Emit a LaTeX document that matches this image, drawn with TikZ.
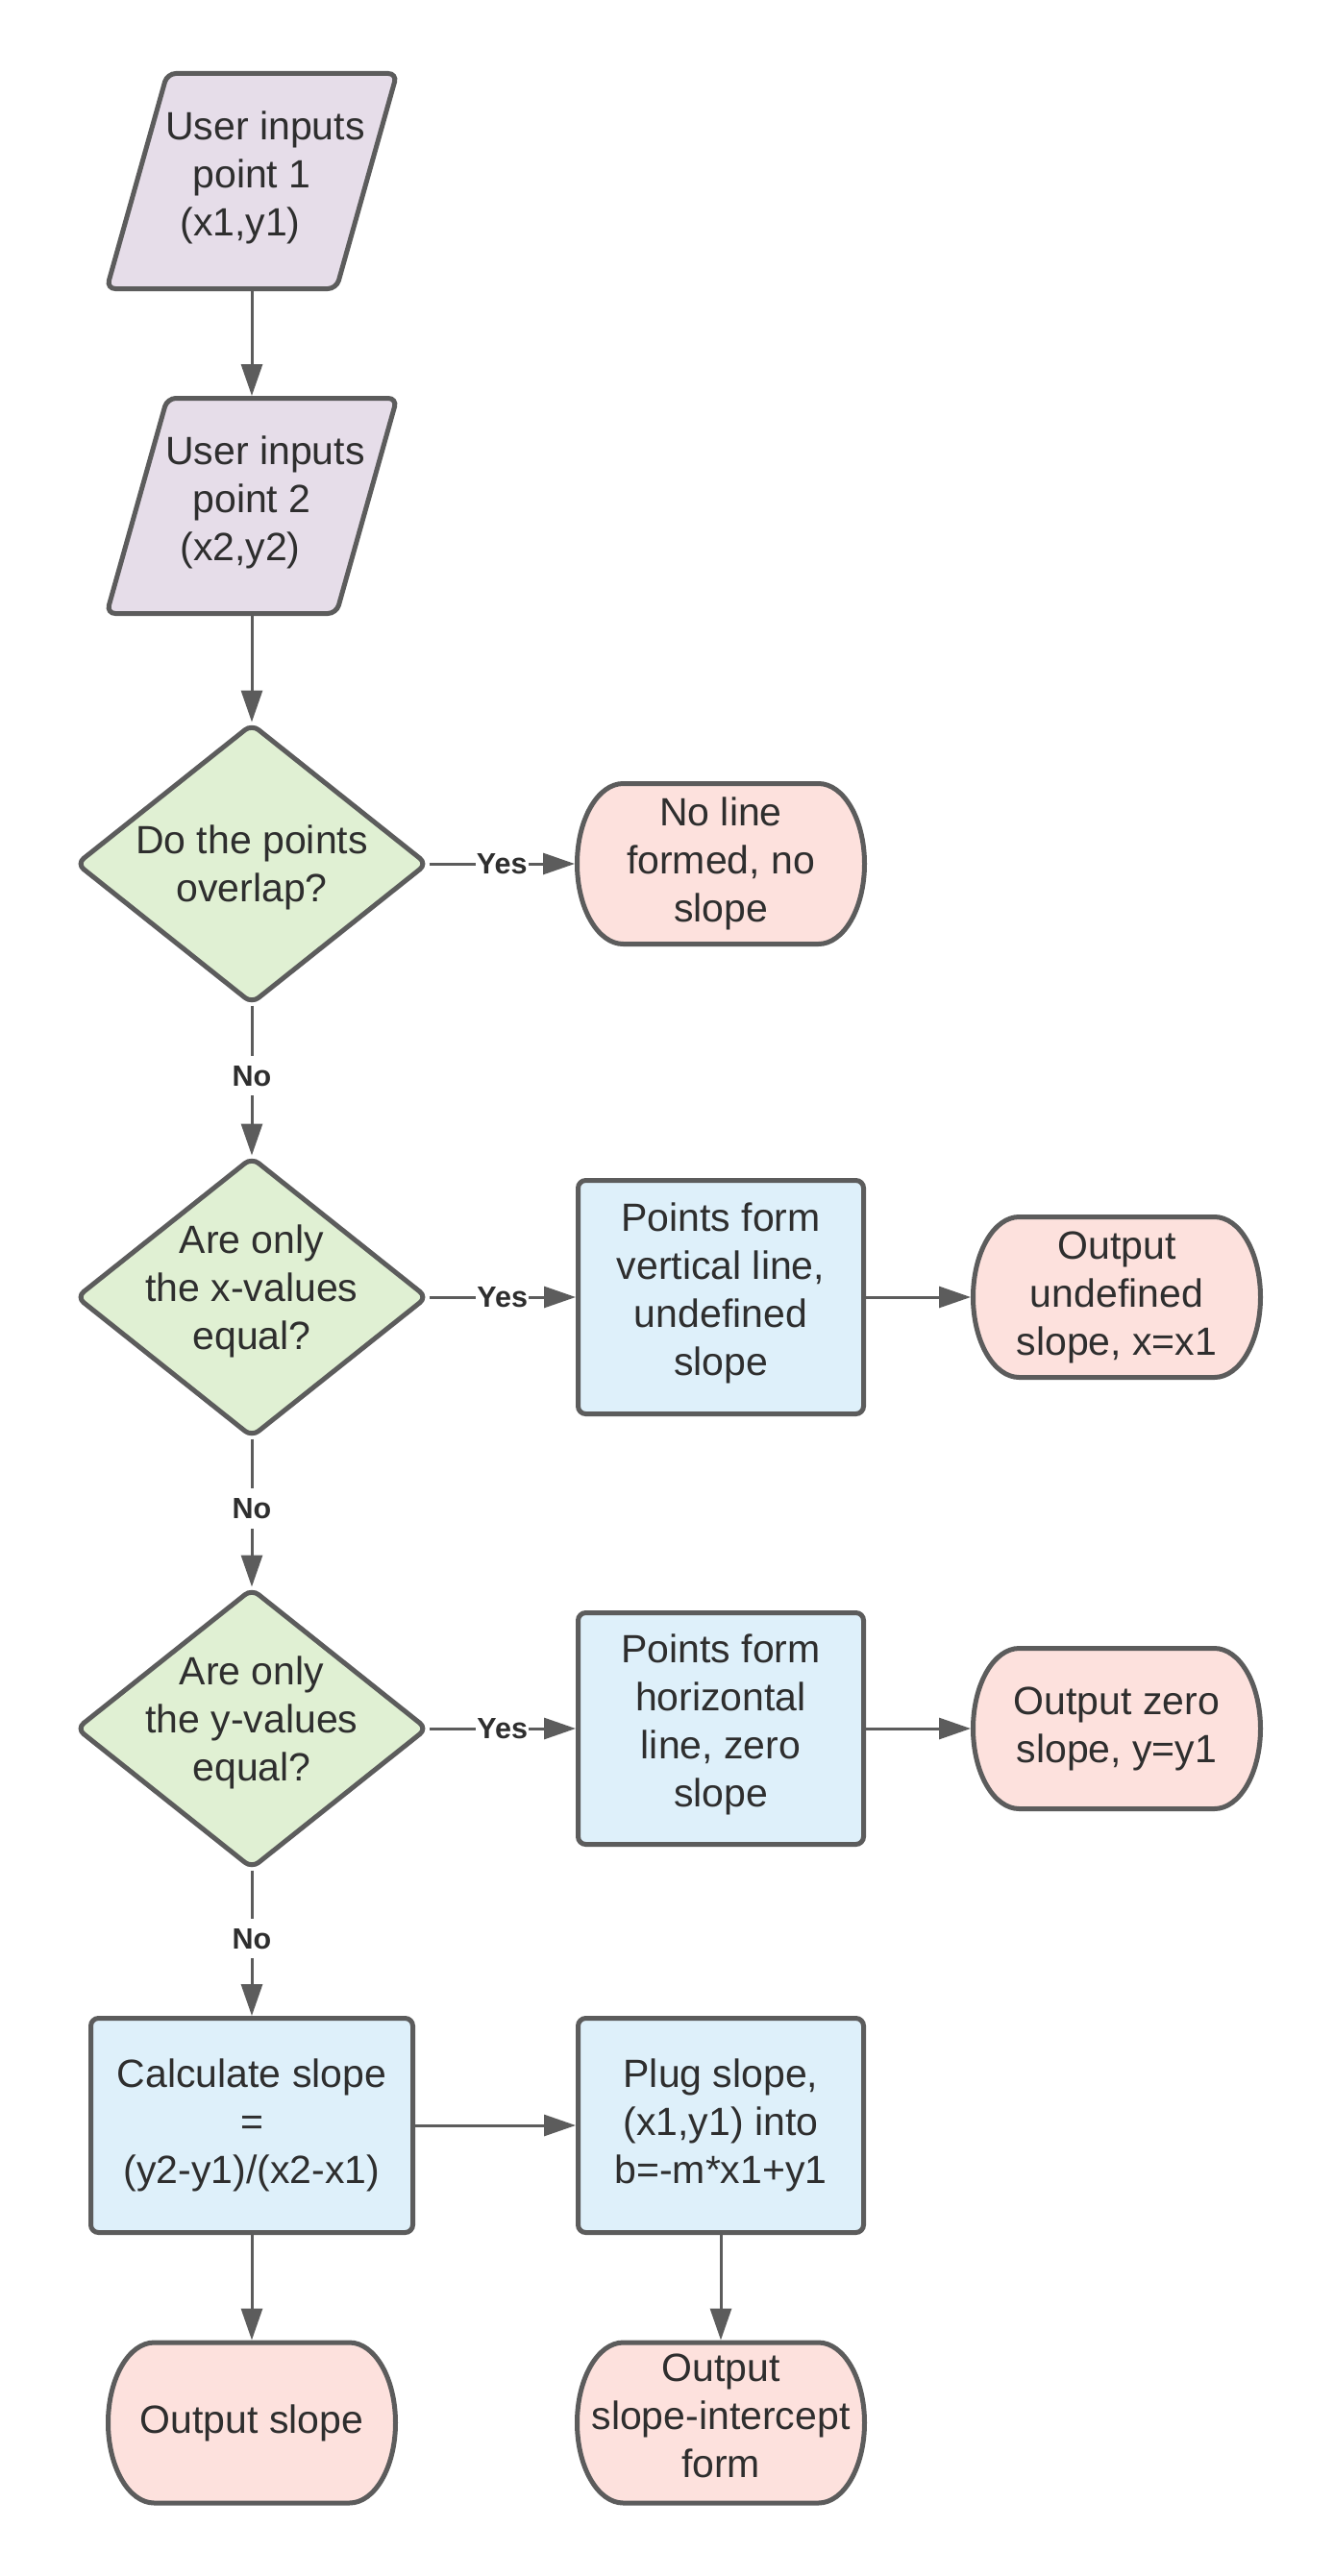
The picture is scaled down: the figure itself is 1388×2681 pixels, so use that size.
\documentclass[tikz,border=0pt]{standalone}
\usepackage{fontspec}
\setmainfont{Liberation Sans}
\usetikzlibrary{arrows.meta,calc,backgrounds}
\definecolor{edge}{HTML}{5C5C5C}
\definecolor{txt}{HTML}{2E2E2E}
\definecolor{pfill}{HTML}{E6DDE9}
\definecolor{dfill}{HTML}{E0F0D3}
\definecolor{bfill}{HTML}{DEF0FA}
\definecolor{tfill}{HTML}{FDE1DD}
\newcommand\mainfs{\fontsize{41pt}{50pt}\selectfont}
\newcommand\lblfs{\fontsize{30.5pt}{36pt}\selectfont\bfseries}
\newcommand\dpth[1]{\rule[-#1]{0pt}{#1}}
\newcommand\htstrut[1]{\rule{0pt}{#1}}
\tikzset{
  base/.style={font=\mainfs, text=txt, align=center, inner sep=0pt, outer sep=0pt},
  box/.style={base, draw=edge, line width=5pt, fill=bfill, rounded corners=8pt, outer sep=2.5pt},
  ghost/.style={base, draw=none, fill=none},
  paranode/.style={ghost, minimum width=305pt, minimum height=229pt},
  dianode/.style={ghost, minimum width=369pt, minimum height=295pt},
  termnode/.style={ghost, minimum width=304pt, minimum height=172pt},
  termline/.style={draw=edge, line width=5pt, fill=tfill},
  dialine/.style={draw=edge, line width=5pt, fill=dfill, rounded corners=9pt},
  paraline/.style={draw=edge, line width=5pt, fill=pfill, rounded corners=9pt},
  conn/.style={draw=edge, line width=3pt, -{Triangle[length=33pt,width=22pt]}},
  lbl/.style={font=\lblfs, text=txt, fill=white, inner xsep=1pt, inner ysep=10pt},
}
\newcommand\termshape[1]{%
  \path[termline] ($(#1.center)+(-101.5pt,83.5pt)$) -- ($(#1.center)+(101.5pt,83.5pt)$)
    arc[start angle=90,end angle=-90,x radius=48pt,y radius=83.5pt]
    -- ($(#1.center)+(-101.5pt,-83.5pt)$)
    arc[start angle=270,end angle=90,x radius=48pt,y radius=83.5pt] -- cycle;}
\newcommand\diashape[1]{%
  \path[dialine] ($(#1.center)+(0,145pt)$) -- ($(#1.center)+(182pt,0)$)
    -- ($(#1.center)+(0,-145pt)$) -- ($(#1.center)+(-182pt,0)$) -- cycle;}
\newcommand\parashape[1]{%
  \path[paraline] ($(#1.center)+(-88pt,112pt)$) -- ($(#1.center)+(151pt,112pt)$)
    -- ($(#1.center)+(88pt,-112pt)$) -- ($(#1.center)+(-151pt,-112pt)$) -- cycle;}
\begin{document}
\begin{tikzpicture}[x=1pt,y=1pt]
\useasboundingbox (0,0) rectangle (1388,-2681);

\node[paranode] (P1) at (262,-188.5) {\hspace*{28pt}User inputs\\point 1\\(x1,y1)\hspace*{24pt}\dpth{16.5pt}};
\node[paranode] (P2) at (262,-526.5) {\hspace*{28pt}User inputs\\point 2\\(x2,y2)\hspace*{24pt}\dpth{16.5pt}};

\node[dianode] (D1) at (262,-899) {\htstrut{38pt}Do the points\\overlap?};
\node[termnode] (T1) at (750,-899) {No line\\formed, no\\slope};

\node[dianode] (D2) at (262,-1350) {Are only\\the x-values\\equal?\dpth{20pt}};
\node[box, minimum width=297pt, minimum height=243pt] (B1) at (750,-1350) {Points form\\vertical line,\\undefined\\slope\dpth{17pt}};
\node[termnode] (T2) at (1162,-1350) {Output\\undefined\\slope, x=x1};

\node[dianode] (D3) at (262,-1799) {Are only\\the y-values\\equal?\dpth{20pt}};
\node[box, minimum width=297pt, minimum height=241pt] (B2) at (750,-1799) {Points form\\horizontal\\line, zero\\slope\dpth{17pt}};
\node[termnode] (T3) at (1162,-1799) {Output zero\\slope, y=y1};

\node[box, minimum width=335pt, minimum height=223pt] (B3) at (262,-2212) {Calculate slope\\=\\(y2-y1)/(x2-x1)};
\node[box, minimum width=297pt, minimum height=223pt] (B4) at (750,-2212) {Plug slope,\\(x1,y1) into\\b=-m*x1+y1};

\node[termnode] (T4) at (262,-2521.5) {Output slope};
\node[termnode] (T5) at (750,-2521.5) {Output\\slope-intercept\\form\dpth{15pt}};

\begin{pgfonlayer}{background}
  \fill[white] (0,0) rectangle (1388,-2681);
  \parashape{P1}
  \parashape{P2}
  \diashape{D1}
  \diashape{D2}
  \diashape{D3}
  \termshape{T1}
  \termshape{T2}
  \termshape{T3}
  \termshape{T4}
  \termshape{T5}
\end{pgfonlayer}

\draw[conn] (P1.south) -- (P2.north);
\draw[conn] (P2.south) -- (D1.north);
\draw[conn] (D1.east) -- node[lbl] (y1) {Yes} (T1.west);
\draw[conn] (D1.south) -- node[lbl, pos=0.47] (n1) {No} (D2.north);
\draw[conn] (D2.east) -- node[lbl] (y2) {Yes} (B1.west);
\draw[conn] (B1.east) -- (T2.west);
\draw[conn] (D2.south) -- node[lbl, pos=0.47] (n2) {No} (D3.north);
\draw[conn] (D3.east) -- node[lbl] (y3) {Yes} (B2.west);
\draw[conn] (B2.east) -- (T3.west);
\draw[conn] (D3.south) -- node[lbl, pos=0.47] (n3) {No} (B3.north);
\draw[conn] (B3.east) -- (B4.west);
\draw[conn] (B3.south) -- (T4.north);
\draw[conn] (B4.south) -- (T5.north);
\end{tikzpicture}
\end{document}
